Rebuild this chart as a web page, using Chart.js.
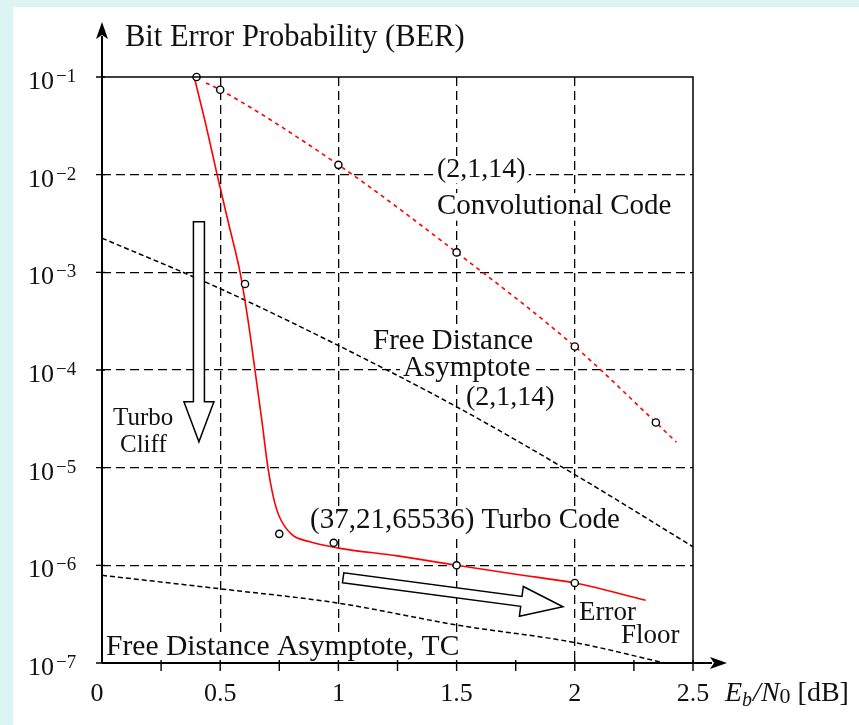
<!DOCTYPE html>
<html>
<head>
<meta charset="utf-8">
<script src="https://cdn.jsdelivr.net/npm/chart.js@4.4.0/dist/chart.umd.min.js"></script>
<style>
  html, body { margin: 0; padding: 0; background: #ddf5f2; }
  canvas { display: block; }
</style>
</head>
<body>
<canvas id="myChart" width="859" height="725"></canvas>
<script>
// axes
let xGrid = [0, 0.5, 1, 1.5, 2, 2.5];
let xTickLabels = ['0', '0.5', '1', '1.5', '2', '2.5'];
let xMinor = [0.25, 0.5, 0.75, 1, 1.25, 1.5, 1.75, 2, 2.25, 2.5];
let yTicks = [1e-7, 1e-6, 1e-5, 1e-4, 1e-3, 1e-2, 1e-1];
let yTickExp = ['\u22127', '\u22126', '\u22125', '\u22124', '\u22123', '\u22122', '\u22121'];

// (37,21,65536) turbo code, simulated curve
let turboX = [0.39, 0.44, 0.487, 0.535, 0.584, 0.618, 0.647, 0.675, 0.702, 0.725, 0.749, 0.80, 0.876, 1.0, 1.25, 1.5, 1.75, 2.0, 2.3];
let turboY = [1e-1, 3.2e-2, 1e-2, 3.2e-3, 1e-3, 3.2e-4, 1e-4, 3.2e-5, 1e-5, 5e-6, 3.2e-6, 2.1e-6, 1.75e-6, 1.5e-6, 1.25e-6, 1.0e-6, 8.1e-7, 6.6e-7, 4.4e-7];
// turbo code markers
let turboPtX = [0.4, 0.605, 0.75, 0.98, 1.5, 2.0];
let turboPtY = [1e-1, 7.6e-4, 2.1e-6, 1.7e-6, 1.0e-6, 6.6e-7];

// (2,1,14) convolutional code
let convX = [0.44, 0.5, 1.0, 1.5, 2.0, 2.343, 2.43];
let convY = [8.7e-2, 7.4e-2, 1.26e-2, 1.6e-3, 1.74e-4, 2.9e-5, 1.82e-5];
let convPtX = [0.5, 1.0, 1.5, 2.0, 2.343];
let convPtY = [7.4e-2, 1.26e-2, 1.6e-3, 1.74e-4, 2.9e-5];

// free distance asymptotes
let fdConvX = [0, 0.5, 1.0, 1.5, 2.0, 2.5];
let fdConvY = [2.24e-3, 6.8e-4, 1.78e-4, 4.2e-5, 8.5e-6, 1.55e-6];
let fdTcX = [0, 0.5, 1.0, 1.5, 2.0, 2.38];
let fdTcY = [7.9e-7, 5.75e-7, 4.1e-7, 2.45e-7, 1.62e-7, 1.0e-7];

const serif = '"Liberation Serif", "Times New Roman", serif';

function pts(xs, ys) {
    return xs.map((x, i) => ({ x: x, y: ys[i] }));
}

let boxLabels = [
    { text: '(2,1,14)', x: 437, y: 177, size: 28 },
    { text: 'Convolutional Code', x: 437, y: 214, size: 29 },
    { text: 'Free Distance', x: 373, y: 349, size: 29 },
    { text: 'Asymptote', x: 403, y: 376, size: 29 },
    { text: '(2,1,14)', x: 466, y: 405, size: 28 },
    { text: 'Turbo', x: 113, y: 425, size: 25 },
    { text: 'Cliff', x: 120, y: 452, size: 25 },
    { text: '(37,21,65536) Turbo Code', x: 310, y: 528, size: 29 },
    { text: 'Error', x: 579, y: 620, size: 27 },
    { text: 'Floor', x: 621, y: 643, size: 27 },
    { text: 'Free Distance Asymptote, TC', x: 106, y: 655, size: 29.6 }
];

function hollowArrow(ctx, x0, y0, x1, y1, shaft, head, headLen) {
    let dx = x1 - x0, dy = y1 - y0;
    let len = Math.hypot(dx, dy);
    let ux = dx / len, uy = dy / len;
    let nx = -uy, ny = ux;
    let bx = x1 - ux * headLen, by = y1 - uy * headLen;
    let p = [
        [x0 + nx * shaft / 2, y0 + ny * shaft / 2],
        [bx + nx * shaft / 2, by + ny * shaft / 2],
        [bx + nx * head / 2, by + ny * head / 2],
        [x1, y1],
        [bx - nx * head / 2, by - ny * head / 2],
        [bx - nx * shaft / 2, by - ny * shaft / 2],
        [x0 - nx * shaft / 2, y0 - ny * shaft / 2]
    ];
    ctx.beginPath();
    ctx.moveTo(p[0][0], p[0][1]);
    for (let i = 1; i < p.length; i++) ctx.lineTo(p[i][0], p[i][1]);
    ctx.closePath();
    ctx.fillStyle = '#fff';
    ctx.fill();
    ctx.strokeStyle = '#000';
    ctx.lineWidth = 1.5;
    ctx.stroke();
}

const decorPlugin = {
    id: 'decor',
    beforeDraw(chart) {
        let ctx = chart.ctx;
        ctx.save();
        ctx.fillStyle = '#ddf5f2';
        ctx.fillRect(0, 0, chart.width, chart.height);
        ctx.fillStyle = '#fff';
        ctx.fillRect(13, 7, chart.width - 13, chart.height - 7);
        ctx.restore();
    },
    beforeDatasetsDraw(chart) {
        // white boxes behind the annotations, covering the grid
        let ctx = chart.ctx;
        ctx.save();
        ctx.fillStyle = '#fff';
        boxLabels.forEach(l => {
            ctx.font = l.size + 'px ' + serif;
            let w = ctx.measureText(l.text).width;
            ctx.fillRect(l.x - 3, l.y - l.size * 0.72, w + 6, l.size * 0.95);
        });
        ctx.restore();
    },
    afterDatasetsDraw(chart) {
        let ctx = chart.ctx;
        let xs = chart.scales.x, ys = chart.scales.y;
        let area = chart.chartArea;
        ctx.save();

        // frame top and right
        ctx.strokeStyle = '#000';
        ctx.lineWidth = 1.5;
        ctx.beginPath();
        ctx.moveTo(area.left, ys.getPixelForValue(1e-1));
        ctx.lineTo(xs.getPixelForValue(2.5), ys.getPixelForValue(1e-1));
        ctx.lineTo(xs.getPixelForValue(2.5), ys.getPixelForValue(1e-7));
        ctx.stroke();

        // axes with arrows
        let x0 = xs.getPixelForValue(0), y0 = ys.getPixelForValue(1e-7);
        ctx.lineWidth = 2;
        ctx.beginPath();
        ctx.moveTo(x0, y0);
        ctx.lineTo(x0, 36);
        ctx.moveTo(x0, y0);
        ctx.lineTo(712, y0);
        ctx.stroke();
        ctx.fillStyle = '#000';
        ctx.beginPath();
        ctx.moveTo(x0, 22);
        ctx.lineTo(x0 + 6, 39);
        ctx.lineTo(x0, 35);
        ctx.lineTo(x0 - 6, 39);
        ctx.closePath();
        ctx.fill();
        ctx.beginPath();
        ctx.moveTo(727, y0);
        ctx.lineTo(710, y0 - 6);
        ctx.lineTo(714, y0);
        ctx.lineTo(710, y0 + 6);
        ctx.closePath();
        ctx.fill();

        // tick marks
        ctx.lineWidth = 1.4;
        ctx.beginPath();
        xMinor.forEach(v => {
            let px = xs.getPixelForValue(v);
            ctx.moveTo(px, y0 - 3);
            ctx.lineTo(px, y0 + 8);
        });
        yTicks.forEach(v => {
            let py = ys.getPixelForValue(v);
            ctx.moveTo(x0 - 6, py);
            ctx.lineTo(x0 + 3, py);
        });
        ctx.stroke();

        // tick labels
        ctx.fillStyle = '#111';
        ctx.textBaseline = 'alphabetic';
        ctx.textAlign = 'center';
        ctx.font = '26px ' + serif;
        xGrid.forEach((v, i) => {
            let px = xs.getPixelForValue(v);
            if (i === 0) px -= 5;
            ctx.fillText(xTickLabels[i], px, 701);
        });
        ctx.textAlign = 'left';
        yTicks.forEach((v, i) => {
            let py = ys.getPixelForValue(v);
            ctx.font = '26px ' + serif;
            ctx.fillText('10', 28, py + 12);
            let w = ctx.measureText('10').width;
            ctx.font = '19px ' + serif;
            ctx.fillText(yTickExp[i], 28 + w + 2, py + 5);
        });

        // axis titles
        ctx.font = '30.5px ' + serif;
        ctx.fillText('Bit Error Probability (BER)', 125, 46);
        let cx = 725, by = 701;
        ctx.font = 'italic 28px ' + serif;
        ctx.fillText('E', cx, by);
        cx += ctx.measureText('E').width;
        ctx.font = 'italic 20px ' + serif;
        ctx.fillText('b', cx, by + 5);
        cx += ctx.measureText('b').width + 1;
        ctx.font = 'italic 28px ' + serif;
        ctx.fillText('/N', cx, by);
        cx += ctx.measureText('/N').width;
        ctx.font = '22px ' + serif;
        ctx.fillText('0', cx, by + 2);
        cx += ctx.measureText('0').width;
        ctx.font = '28px ' + serif;
        ctx.fillText(' [dB]', cx, by);

        // annotations
        boxLabels.forEach(l => {
            ctx.font = l.size + 'px ' + serif;
            ctx.fillText(l.text, l.x, l.y);
        });

        // hollow arrows
        hollowArrow(ctx, xs.getPixelForValue(0.41), ys.getPixelForValue(3.3e-3),
            xs.getPixelForValue(0.41), ys.getPixelForValue(1.84e-5), 11, 30, 40);
        hollowArrow(ctx, xs.getPixelForValue(1.02), ys.getPixelForValue(7.45e-7),
            xs.getPixelForValue(1.95), ys.getPixelForValue(3.76e-7), 10, 30, 42);

        ctx.restore();
    }
};

let config = {
    type: 'scatter',
    data: {
        datasets: [
            {
                label: 'Turbo points',
                data: pts(turboPtX, turboPtY),
                pointRadius: 3.6,
                pointBorderColor: '#000',
                pointBackgroundColor: '#fff',
                pointBorderWidth: 1.4,
                showLine: false,
                clip: false
            },
            {
                label: 'Conv points',
                data: pts(convPtX, convPtY),
                pointRadius: 3.6,
                pointBorderColor: '#000',
                pointBackgroundColor: '#fff',
                pointBorderWidth: 1.4,
                showLine: false,
                clip: false
            },
            {
                label: 'Turbo code',
                data: pts(turboX, turboY),
                showLine: true,
                borderColor: '#ff0000',
                borderWidth: 1.6,
                pointRadius: 0,
                cubicInterpolationMode: 'monotone'
            },
            {
                label: 'Convolutional code',
                data: pts(convX, convY),
                showLine: true,
                borderColor: '#ff0000',
                borderWidth: 1.6,
                borderDash: [4, 4],
                pointRadius: 0,
                cubicInterpolationMode: 'monotone'
            },
            {
                label: 'Free distance asymptote (2,1,14)',
                data: pts(fdConvX, fdConvY),
                showLine: true,
                borderColor: '#000',
                borderWidth: 1.5,
                borderDash: [5, 3],
                pointRadius: 0,
                cubicInterpolationMode: 'monotone'
            },
            {
                label: 'Free distance asymptote TC',
                data: pts(fdTcX, fdTcY),
                showLine: true,
                borderColor: '#000',
                borderWidth: 1.5,
                borderDash: [5, 3],
                pointRadius: 0,
                cubicInterpolationMode: 'monotone'
            }
        ]
    },
    options: {
        responsive: false,
        animation: false,
        devicePixelRatio: 1,
        layout: { padding: { left: 102, top: 77, right: 166, bottom: 62 } },
        plugins: {
            legend: { display: false },
            tooltip: { enabled: false }
        },
        scales: {
            x: {
                type: 'linear',
                min: 0,
                max: 2.5,
                afterBuildTicks: s => { s.ticks = xGrid.map(v => ({ value: v })); },
                ticks: { display: false },
                grid: {
                    drawTicks: false,
                    lineWidth: 1.3,
                    color: c => (c.tick && c.tick.value > 0 && c.tick.value < 2.5) ? '#000' : 'rgba(0,0,0,0)'
                },
                border: { display: false, dash: [9, 5] }
            },
            y: {
                type: 'logarithmic',
                min: 1e-7,
                max: 1e-1,
                afterBuildTicks: s => { s.ticks = yTicks.map(v => ({ value: v })); },
                ticks: { display: false },
                grid: {
                    drawTicks: false,
                    lineWidth: 1.3,
                    color: c => (c.tick && c.tick.value > 1.5e-7 && c.tick.value < 0.09) ? '#000' : 'rgba(0,0,0,0)'
                },
                border: { display: false, dash: [9, 5] }
            }
        }
    },
    plugins: [decorPlugin]
};

let myChart = new Chart(document.getElementById('myChart'), config);
</script>
</body>
</html>
